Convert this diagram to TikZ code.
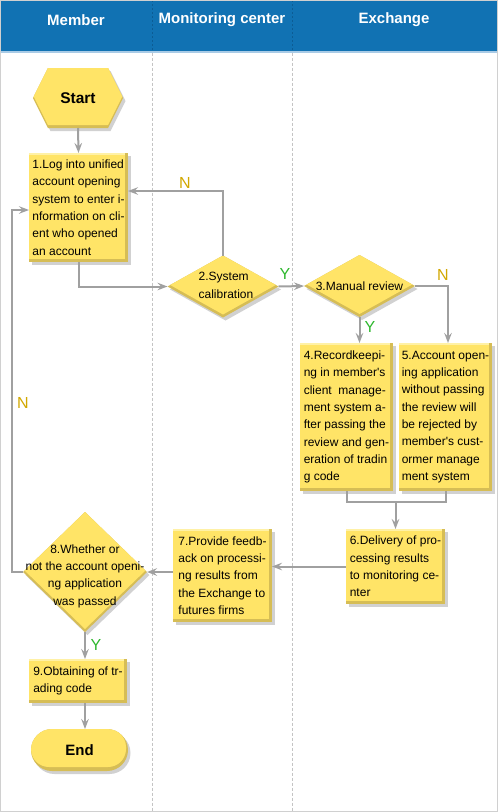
\documentclass[tikz,border=0pt]{standalone}
\usepackage{fontspec}
\setmainfont{Liberation Sans}
\usetikzlibrary{arrows.meta,shapes.geometric,shapes.misc,shapes.symbols,shadows,calc}

\definecolor{hdr}{HTML}{1172B3}
\definecolor{hdrline}{HTML}{A9CBE6}
\definecolor{hdrdash}{HTML}{0C5C94}
\definecolor{ymain}{HTML}{FFE467}
\definecolor{ydark}{HTML}{D6BD55}
\definecolor{ylight}{HTML}{FFF1A6}
\definecolor{conngray}{HTML}{A0A0A0}
\definecolor{ncol}{HTML}{D2A800}
\definecolor{ycol}{HTML}{2EB82E}
\definecolor{lanedash}{HTML}{C4C4C4}
\definecolor{framecol}{HTML}{D0D0D0}

\newcommand{\apos}{\textquotesingle}

\tikzset{
  shad/.style={drop shadow={shadow xshift=2.5pt,shadow yshift=-3pt,fill=black,opacity=0.18}},
  boxtxt/.style={font=\fontsize{12}{17.3}\selectfont},
  pbox/.style={rectangle, shad, fill=ydark, inner sep=0pt, outer sep=0pt, align=left, boxtxt,
    path picture={
      \fill[ymain] (path picture bounding box.north west) rectangle ([shift={(-3pt,3pt)}]path picture bounding box.south east);
      \fill[ylight] (path picture bounding box.north west) rectangle ([shift={(-3pt,-1.5pt)}]path picture bounding box.north east);}},
  pdia/.style={diamond, shad, fill=ydark, inner sep=0pt, outer sep=0pt,
    path picture={
      \fill[ymain] ([yshift=3pt]path picture bounding box.north) -- ([yshift=3pt]path picture bounding box.east) -- ([yshift=3pt]path picture bounding box.south) -- ([yshift=3pt]path picture bounding box.west) -- cycle;}},
  pstart/.style={signal, signal to=east and west, signal pointer angle=127, shad, fill=ydark, inner sep=0pt, outer sep=0pt,
    font=\fontsize{15.5}{16}\selectfont\bfseries,
    path picture={
      \fill[ymain] ([yshift=3pt]path picture bounding box.west)
        -- ([shift={(15pt,3pt)}]path picture bounding box.north west)
        -- ([shift={(-15pt,3pt)}]path picture bounding box.north east)
        -- ([yshift=3pt]path picture bounding box.east)
        -- ([shift={(-15pt,3pt)}]path picture bounding box.south east)
        -- ([shift={(15pt,3pt)}]path picture bounding box.south west) -- cycle;}},
  pend/.style={rounded rectangle, shad, fill=ydark, inner sep=0pt, outer sep=0pt,
    font=\fontsize{15}{16}\selectfont\bfseries,
    path picture={
      \fill[ymain, rounded corners=18pt] (path picture bounding box.north west) rectangle ([shift={(-2pt,4pt)}]path picture bounding box.south east);}},
  hdrtxt/.style={text=white, font=\fontsize{15}{16}\selectfont\bfseries},
  cline/.style={draw=conngray, line width=2pt},
  arr/.style={cline, -{Stealth[length=10pt,width=7.5pt,inset=3.5pt]}},
  nlab/.style={text=ncol, font=\fontsize{16}{16}\selectfont},
  ylab/.style={text=ycol, font=\fontsize{16}{16}\selectfont},
}

\begin{document}
\begin{tikzpicture}[x=1pt,y=-1pt]
\useasboundingbox (0,0) rectangle (498,812);
\fill[white] (0,0) rectangle (498,812);
% header
\fill[hdr] (0,0) rectangle (498,50.5);
\fill[hdrline] (0,50.5) rectangle (498,52.5);
\draw[hdrdash, dash pattern=on 2pt off 2pt, line width=0.8pt] (152.5,0) -- (152.5,50.5);
\draw[hdrdash, dash pattern=on 2pt off 2pt, line width=0.8pt] (292.5,0) -- (292.5,50.5);
\draw[lanedash, dash pattern=on 3pt off 2pt, line width=0.8pt] (152.5,52.5) -- (152.5,811);
\draw[lanedash, dash pattern=on 3pt off 2pt, line width=0.8pt] (292.5,52.5) -- (292.5,811);
\draw[framecol, line width=1pt] (0.5,0.5) rectangle (497.5,811.5);

\node[hdrtxt] (hm) at (76,20) {Member};
\node[hdrtxt] (hc) at (222,20) {Monitoring center};
\node[hdrtxt] (he) at (394,20) {Exchange};

% nodes
\node[pstart, minimum width=90pt, minimum height=60pt] (start) at (78,98) {Start};
\node[pbox, minimum width=99pt, minimum height=109pt] (b1) at (78.5,207.5)
  {1.Log into unified\\account opening\\system to enter i-\\nformation on cli-\\ent who opened\\an account};
\node[pdia, minimum width=111pt, minimum height=62pt,
  label={[boxtxt, align=left, xshift=3pt, yshift=1pt]center:{2.System\\calibration}}] (d2) at (223,286.5) {};
\node[pdia, minimum width=111pt, minimum height=62pt,
  label={[boxtxt]center:{3.Manual review}}] (d3) at (359.5,286) {};
\node[pbox, minimum width=93pt, minimum height=148pt] (b4) at (346.5,417)
  {4.Recordkeepi-\\ng in member\apos s\\client\ \ manage-\\ment system a-\\fter passing the\\review and gen-\\eration of tradin\\g code};
\node[pbox, minimum width=93pt, minimum height=148pt] (b5) at (445.5,417)
  {5.Account open-\\ing application\\without passing\\the review will\\be rejected by\\member\apos s cust-\\ormer manage\\ment system};
\node[pbox, minimum width=99pt, minimum height=75pt] (b6) at (395.5,566.5)
  {6.Delivery of pro-\\cessing results\\to monitoring ce-\\nter};
\node[pbox, minimum width=99pt, minimum height=93pt] (b7) at (222.5,575.5)
  {7.Provide feedb-\\ack on processi-\\ng results from\\the Exchange to\\futures firms};
\node[pdia, minimum width=124pt, minimum height=120pt,
  label={[boxtxt, align=center, yshift=-4pt]center:{8.Whether or\\not the account openi-\\ng application\\was passed}}] (d8) at (85,572) {};
\node[pbox, minimum width=98pt, minimum height=44pt] (b9) at (78,681)
  {9.Obtaining of tr-\\ading code};
\node[pend, minimum width=97pt, minimum height=42pt] (end) at (79.5,750) {End};

% connectors
\draw[arr] (start.south) -- (b1.north);
\draw[arr] (b1.south) |- (d2.west);
\draw[arr] (d2.north) |- ([yshift=16.5pt]b1.east);
\draw[arr] (d2.east) -- (d3.west);
\draw[arr] (d3.south) -- (d3.south |- b4.north);
\draw[arr] (d3.east) -| ([xshift=2.5pt]b5.north);
\coordinate (m) at (395.5,502);
\draw[cline] (b4.south) |- (m) -| (b5.south);
\draw[arr] (m) -- (b6.north);
\draw[arr] (b6.west) -- (b6.west -| b7.east);
\draw[arr] (b7.west |- d8.east) -- (d8.east);
\draw[arr] (d8.west) -- ++(-11,0) |- ([yshift=-2.5pt]b1.west);
\draw[arr] (d8.south) -- (d8.south |- b9.north);
\draw[arr] ([xshift=7pt]b9.south) -- ([xshift=7pt]b9.south |- end.north);

% labels
\node[nlab] (n1) at (185,183) {N};
\node[ylab] (y1) at (285,274) {Y};
\node[nlab] (n2) at (443,275) {N};
\node[ylab] (y2) at (370,327) {Y};
\node[nlab] (n3) at (23,403) {N};
\node[ylab] (y3) at (96,645) {Y};
\end{tikzpicture}
\end{document}
